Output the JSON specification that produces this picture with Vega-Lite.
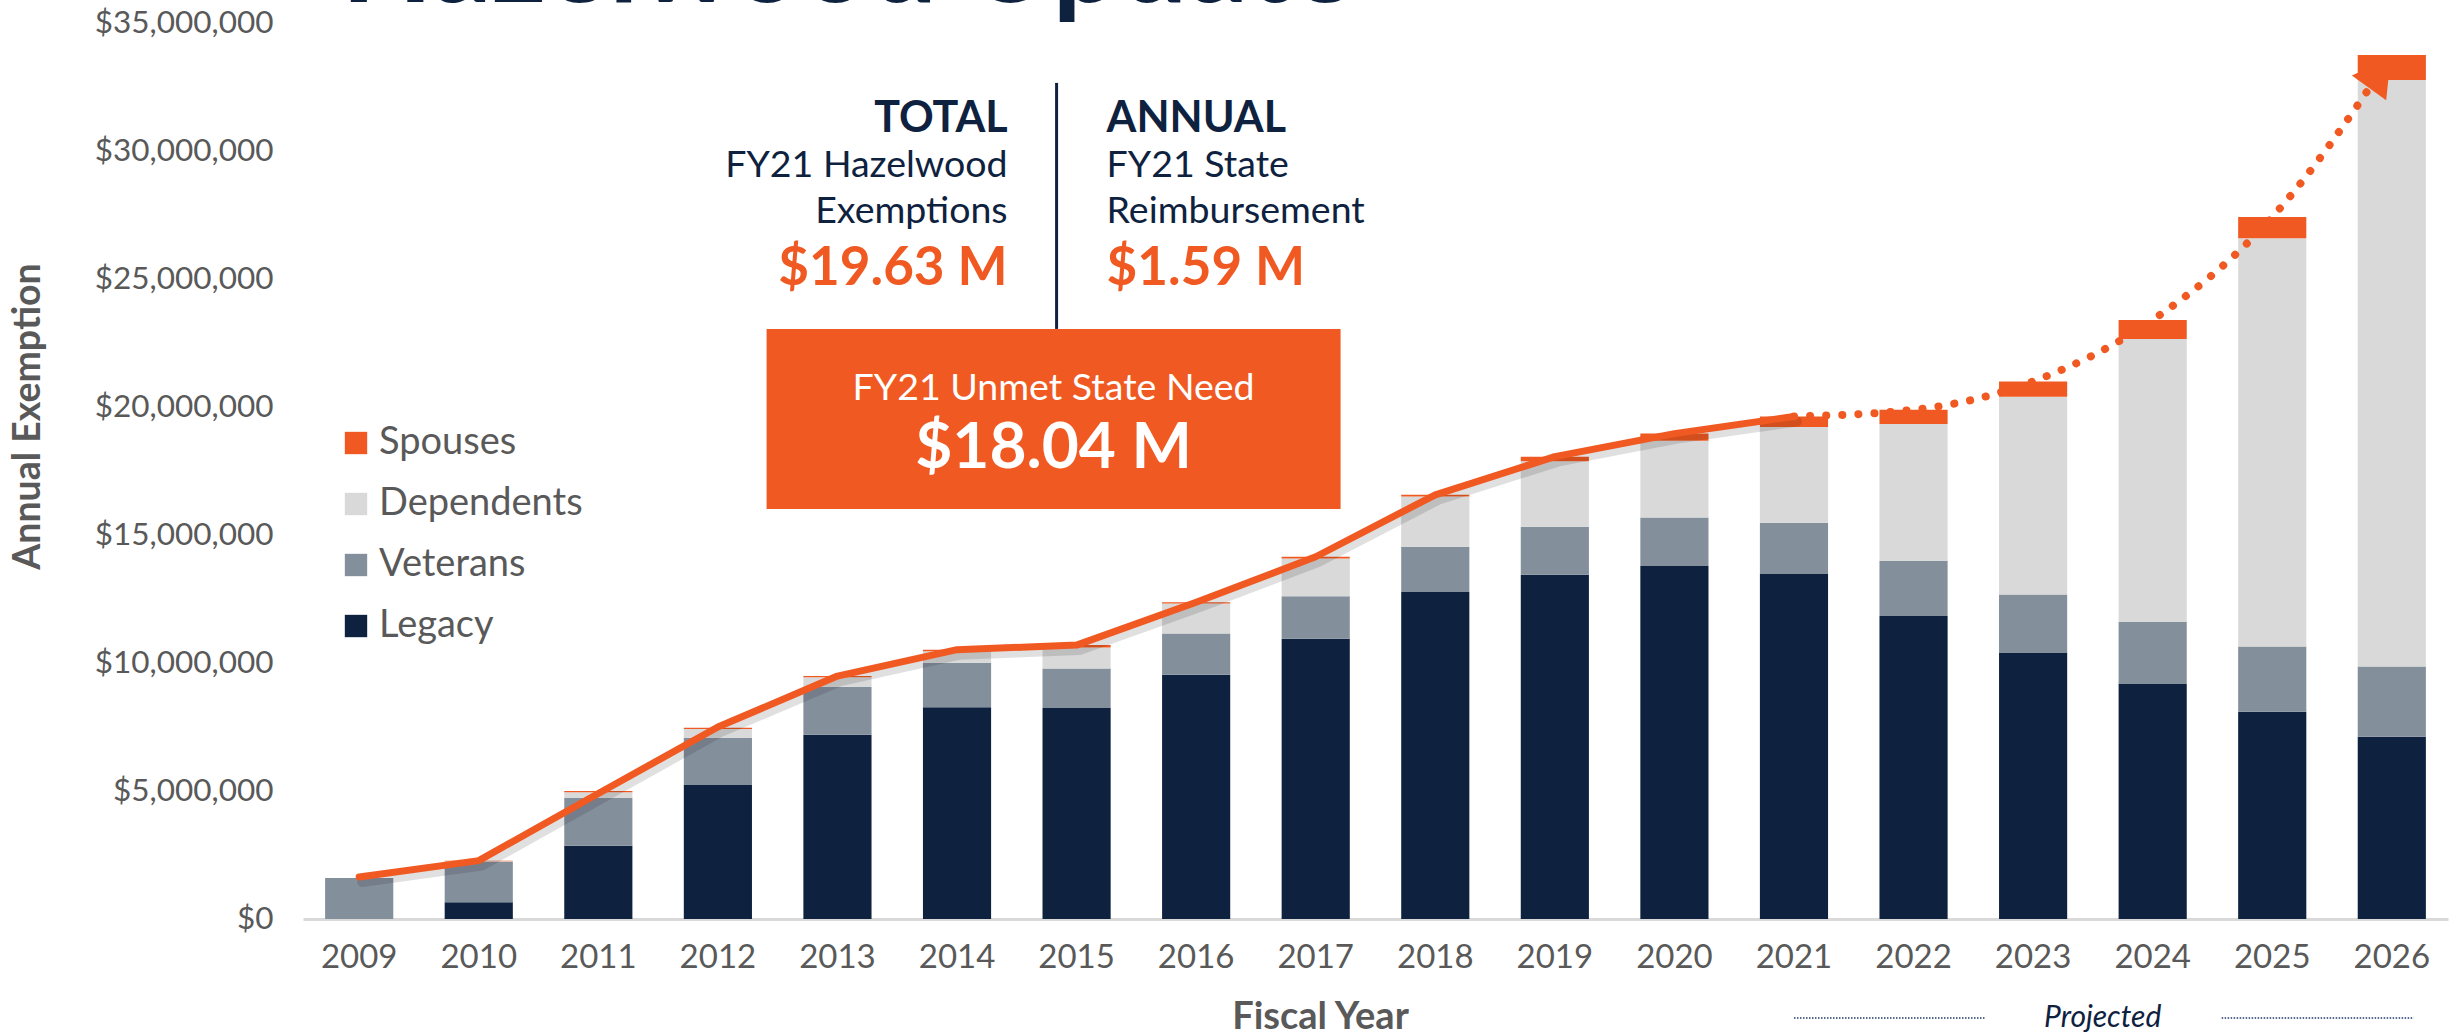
{
  "$schema": "https://vega.github.io/schema/vega-lite/v6.json",
  "width": 2145,
  "height": 896,
  "autosize": {"type": "none"},
  "padding": {"left": 303, "top": 23, "right": 8, "bottom": 116},
  "background": "white",
  "config": {
    "font": "Lato",
    "view": {"stroke": null},
    "legend": {"padding": 0}
  },
  "datasets": {
    "segments": [
      {"year": "2009", "category": "Legacy", "order": 1, "v": 0},
      {"year": "2009", "category": "Veterans", "order": 2, "v": 1600000},
      {"year": "2009", "category": "Dependents", "order": 3, "v": 0},
      {"year": "2009", "category": "Spouses", "order": 4, "v": 0},
      {"year": "2010", "category": "Legacy", "order": 1, "v": 650000},
      {"year": "2010", "category": "Veterans", "order": 2, "v": 1590000},
      {"year": "2010", "category": "Dependents", "order": 3, "v": 20000},
      {"year": "2010", "category": "Spouses", "order": 4, "v": 20000},
      {"year": "2011", "category": "Legacy", "order": 1, "v": 2860000},
      {"year": "2011", "category": "Veterans", "order": 2, "v": 1880000},
      {"year": "2011", "category": "Dependents", "order": 3, "v": 210000},
      {"year": "2011", "category": "Spouses", "order": 4, "v": 50000},
      {"year": "2012", "category": "Legacy", "order": 1, "v": 5230000},
      {"year": "2012", "category": "Veterans", "order": 2, "v": 1850000},
      {"year": "2012", "category": "Dependents", "order": 3, "v": 340000},
      {"year": "2012", "category": "Spouses", "order": 4, "v": 50000},
      {"year": "2013", "category": "Legacy", "order": 1, "v": 7200000},
      {"year": "2013", "category": "Veterans", "order": 2, "v": 1870000},
      {"year": "2013", "category": "Dependents", "order": 3, "v": 370000},
      {"year": "2013", "category": "Spouses", "order": 4, "v": 50000},
      {"year": "2014", "category": "Legacy", "order": 1, "v": 8270000},
      {"year": "2014", "category": "Veterans", "order": 2, "v": 1740000},
      {"year": "2014", "category": "Dependents", "order": 3, "v": 450000},
      {"year": "2014", "category": "Spouses", "order": 4, "v": 60000},
      {"year": "2015", "category": "Legacy", "order": 1, "v": 8240000},
      {"year": "2015", "category": "Veterans", "order": 2, "v": 1550000},
      {"year": "2015", "category": "Dependents", "order": 3, "v": 820000},
      {"year": "2015", "category": "Spouses", "order": 4, "v": 90000},
      {"year": "2016", "category": "Legacy", "order": 1, "v": 9540000},
      {"year": "2016", "category": "Veterans", "order": 2, "v": 1610000},
      {"year": "2016", "category": "Dependents", "order": 3, "v": 1170000},
      {"year": "2016", "category": "Spouses", "order": 4, "v": 50000},
      {"year": "2017", "category": "Legacy", "order": 1, "v": 10950000},
      {"year": "2017", "category": "Veterans", "order": 2, "v": 1660000},
      {"year": "2017", "category": "Dependents", "order": 3, "v": 1470000},
      {"year": "2017", "category": "Spouses", "order": 4, "v": 70000},
      {"year": "2018", "category": "Legacy", "order": 1, "v": 12770000},
      {"year": "2018", "category": "Veterans", "order": 2, "v": 1770000},
      {"year": "2018", "category": "Dependents", "order": 3, "v": 1960000},
      {"year": "2018", "category": "Spouses", "order": 4, "v": 70000},
      {"year": "2019", "category": "Legacy", "order": 1, "v": 13450000},
      {"year": "2019", "category": "Veterans", "order": 2, "v": 1870000},
      {"year": "2019", "category": "Dependents", "order": 3, "v": 2560000},
      {"year": "2019", "category": "Spouses", "order": 4, "v": 180000},
      {"year": "2020", "category": "Legacy", "order": 1, "v": 13790000},
      {"year": "2020", "category": "Veterans", "order": 2, "v": 1890000},
      {"year": "2020", "category": "Dependents", "order": 3, "v": 3000000},
      {"year": "2020", "category": "Spouses", "order": 4, "v": 280000},
      {"year": "2021", "category": "Legacy", "order": 1, "v": 13480000},
      {"year": "2021", "category": "Veterans", "order": 2, "v": 2000000},
      {"year": "2021", "category": "Dependents", "order": 3, "v": 3740000},
      {"year": "2021", "category": "Spouses", "order": 4, "v": 410000},
      {"year": "2022", "category": "Legacy", "order": 1, "v": 11840000},
      {"year": "2022", "category": "Veterans", "order": 2, "v": 2150000},
      {"year": "2022", "category": "Dependents", "order": 3, "v": 5350000},
      {"year": "2022", "category": "Spouses", "order": 4, "v": 550000},
      {"year": "2023", "category": "Legacy", "order": 1, "v": 10410000},
      {"year": "2023", "category": "Veterans", "order": 2, "v": 2270000},
      {"year": "2023", "category": "Dependents", "order": 3, "v": 7720000},
      {"year": "2023", "category": "Spouses", "order": 4, "v": 600000},
      {"year": "2024", "category": "Legacy", "order": 1, "v": 9200000},
      {"year": "2024", "category": "Veterans", "order": 2, "v": 2400000},
      {"year": "2024", "category": "Dependents", "order": 3, "v": 11060000},
      {"year": "2024", "category": "Spouses", "order": 4, "v": 740000},
      {"year": "2025", "category": "Legacy", "order": 1, "v": 8100000},
      {"year": "2025", "category": "Veterans", "order": 2, "v": 2540000},
      {"year": "2025", "category": "Dependents", "order": 3, "v": 15950000},
      {"year": "2025", "category": "Spouses", "order": 4, "v": 830000},
      {"year": "2026", "category": "Legacy", "order": 1, "v": 7120000},
      {"year": "2026", "category": "Veterans", "order": 2, "v": 2740000},
      {"year": "2026", "category": "Dependents", "order": 3, "v": 22910000},
      {"year": "2026", "category": "Spouses", "order": 4, "v": 980000}
    ],
    "actual": [
      {"year": "2009", "v": 1640000},
      {"year": "2010", "v": 2280000},
      {"year": "2011", "v": 4900000},
      {"year": "2012", "v": 7500000},
      {"year": "2013", "v": 9490000},
      {"year": "2014", "v": 10520000},
      {"year": "2015", "v": 10700000},
      {"year": "2016", "v": 12370000},
      {"year": "2017", "v": 14150000},
      {"year": "2018", "v": 16570000},
      {"year": "2019", "v": 18060000},
      {"year": "2020", "v": 18960000},
      {"year": "2021", "v": 19630000}
    ],
    "projected": [
      {"year": "2021", "v": 19630000},
      {"year": "2022", "v": 19890000},
      {"year": "2023", "v": 21000000},
      {"year": "2024", "v": 23400000},
      {"year": "2025", "v": 27420000},
      {"year": "2026", "v": 33750000}
    ]
  },
  "encoding": {
    "x": {
      "field": "year", "type": "ordinal", "sort": null,
      "scale": {"domain": ["2009","2010","2011","2012","2013","2014","2015","2016","2017","2018","2019","2020","2021","2022","2023","2024","2025","2026"], "paddingInner": 0.43, "paddingOuter": 0.185},
      "axis": {
        "title": "Fiscal Year", "titleFontSize": 38, "titleFontWeight": "bold", "titleColor": "#595959",
        "titleX": 1017, "titleY": 109, "titleBaseline": "alphabetic", "titleAlign": "center",
        "labelAngle": 0, "labelFontSize": 33, "labelColor": "#595959", "labelPadding": 22,
        "ticks": false, "tickSize": 0, "domainColor": "#D9D9D9", "domainWidth": 3, "grid": false
      }
    },
    "y": {
      "field": "v", "type": "quantitative",
      "scale": {"domain": [0, 35000000], "nice": false},
      "axis": {
        "title": "Annual Exemption", "titleFontSize": 37.5, "titleFontWeight": "bold", "titleColor": "#595959",
        "titleX": -275, "titleY": 393, "titleBaseline": "middle", "titleAlign": "center", "titleAngle": -90,
        "values": [0, 5000000, 10000000, 15000000, 20000000, 25000000, 30000000, 35000000],
        "format": "$,.0f", "labelFontSize": 31.5, "labelColor": "#595959", "labelPadding": 30,
        "ticks": false, "tickSize": 0, "domain": false, "grid": false
      }
    }
  },
  "layer": [
    {
      "data": {"name": "segments"},
      "mark": {"type": "bar"},
      "encoding": {
        "color": {
          "field": "category", "type": "nominal",
          "scale": {"domain": ["Spouses", "Dependents", "Veterans", "Legacy"], "range": ["#F05A22", "#D9D9D9", "#848F9C", "#0E2240"]},
          "legend": {
            "title": null, "orient": "none", "legendX": 34, "legendY": 401,
            "symbolType": "square", "symbolSize": 500, "symbolStrokeWidth": 0,
            "labelFontSize": 38, "labelColor": "#595959", "labelOffset": 4, "labelLimit": 400, "rowPadding": 23
          }
        },
        "order": {"field": "order", "type": "quantitative", "sort": "ascending"}
      }
    },
    {
      "data": {"name": "actual"},
      "mark": {"type": "line", "color": "#000000", "opacity": 0.12, "strokeWidth": 10, "xOffset": 3, "yOffset": 5, "strokeCap": "round", "strokeJoin": "round"}
    },
    {
      "data": {"name": "actual"},
      "mark": {"type": "line", "color": "#F05A22", "strokeWidth": 7, "strokeCap": "round", "strokeJoin": "round"}
    },
    {
      "data": {"name": "projected"},
      "mark": {"type": "line", "color": "#F05A22", "strokeWidth": 8, "interpolate": "monotone", "strokeCap": "round", "strokeDash": [0.1, 16]}
    },
    {
      "data": {"values": [{"year": "2026", "v": 33750000}]},
      "mark": {"type": "point", "shape": "triangle-up", "filled": true, "color": "#F05A22", "opacity": 1, "size": 1800, "angle": 36, "xOffset": -12, "yOffset": 18}
    },
    {
      "data": {"values": [{"year": "2015", "v": 32660000, "bottom": 23050000}]},
      "mark": {"type": "rule", "color": "#0E2240", "strokeWidth": 3, "xOffset": -20},
      "encoding": {"y2": {"field": "bottom"}}
    },
    {
      "data": {"values": [{"year": "2015", "v": 23050000, "bottom": 16020000}]},
      "mark": {"type": "bar", "color": "#F05A22", "width": 574, "xOffset": -23},
      "encoding": {"y2": {"field": "bottom"}}
    },
    {
      "data": {"values": [{"year": "2015", "v": 30740000, "label": "TOTAL"}]},
      "mark": {"type": "text", "align": "right", "baseline": "alphabetic", "dx": -69, "fontSize": 43, "fontWeight": "bold", "color": "#0E2240"},
      "encoding": {"text": {"field": "label"}}
    },
    {
      "data": {"values": [{"year": "2015", "v": 29000000, "label": "FY21 Hazelwood"}, {"year": "2015", "v": 27190000, "label": "Exemptions"}]},
      "mark": {"type": "text", "align": "right", "baseline": "alphabetic", "dx": -69, "fontSize": 37.5, "color": "#0E2240"},
      "encoding": {"text": {"field": "label"}}
    },
    {
      "data": {"values": [{"year": "2015", "v": 24770000, "label": "$19.63 M"}]},
      "mark": {"type": "text", "align": "right", "baseline": "alphabetic", "dx": -69, "fontSize": 53, "fontWeight": "bold", "color": "#F05A22"},
      "encoding": {"text": {"field": "label"}}
    },
    {
      "data": {"values": [{"year": "2015", "v": 30740000, "label": "ANNUAL"}]},
      "mark": {"type": "text", "align": "left", "baseline": "alphabetic", "dx": 30, "fontSize": 43, "fontWeight": "bold", "color": "#0E2240"},
      "encoding": {"text": {"field": "label"}}
    },
    {
      "data": {"values": [{"year": "2015", "v": 29000000, "label": "FY21 State"}, {"year": "2015", "v": 27190000, "label": "Reimbursement"}]},
      "mark": {"type": "text", "align": "left", "baseline": "alphabetic", "dx": 30, "fontSize": 37.5, "color": "#0E2240"},
      "encoding": {"text": {"field": "label"}}
    },
    {
      "data": {"values": [{"year": "2015", "v": 24770000, "label": "$1.59 M"}]},
      "mark": {"type": "text", "align": "left", "baseline": "alphabetic", "dx": 30, "fontSize": 53, "fontWeight": "bold", "color": "#F05A22"},
      "encoding": {"text": {"field": "label"}}
    },
    {
      "data": {"values": [{"year": "2015", "v": 20270000, "label": "FY21 Unmet State Need"}]},
      "mark": {"type": "text", "align": "center", "baseline": "alphabetic", "dx": -23, "fontSize": 37.5, "color": "#FFFFFF"},
      "encoding": {"text": {"field": "label"}}
    },
    {
      "data": {"values": [{"year": "2015", "v": 17620000, "label": "$18.04 M"}]},
      "mark": {"type": "text", "align": "center", "baseline": "alphabetic", "dx": -23, "fontSize": 64, "fontWeight": "bold", "color": "#FFFFFF"},
      "encoding": {"text": {"field": "label"}}
    },
    {
      "data": {"values": [{"year": "2009", "v": 35830000, "label": "Hazelwood Update"}]},
      "mark": {"type": "text", "align": "left", "baseline": "alphabetic", "dx": -18, "fontSize": 119, "fontWeight": "bold", "color": "#0E2240"},
      "encoding": {"text": {"field": "label"}}
    },
    {
      "data": {"values": [{"year": "2024", "v": -4220000, "label": "Projected"}]},
      "mark": {"type": "text", "align": "center", "baseline": "alphabetic", "dx": -50, "fontSize": 30, "fontStyle": "italic", "color": "#0E2240"},
      "encoding": {"text": {"field": "label"}}
    },
    {
      "data": {"values": [{"year": "2021", "end": "2022", "v": -3870000}]},
      "mark": {"type": "rule", "color": "#1F3864", "strokeWidth": 1.5, "strokeDash": [1.5, 1.5], "x2Offset": 72},
      "encoding": {"x2": {"field": "end"}}
    },
    {
      "data": {"values": [{"year": "2024", "end": "2026", "v": -3870000}]},
      "mark": {"type": "rule", "color": "#1F3864", "strokeWidth": 1.5, "strokeDash": [1.5, 1.5], "xOffset": 69, "x2Offset": 22},
      "encoding": {"x2": {"field": "end"}}
    }
  ]
}
